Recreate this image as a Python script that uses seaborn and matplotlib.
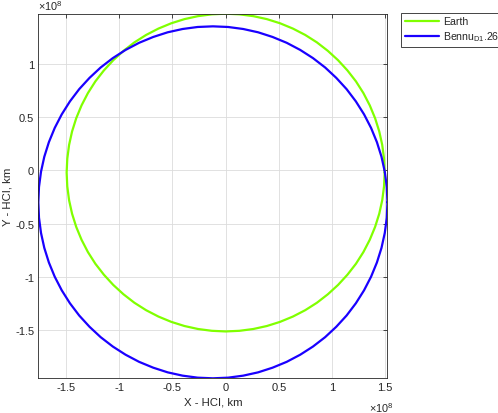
import numpy as np
import pandas as pd
import matplotlib
matplotlib.use("Agg")
import matplotlib.pyplot as plt
import seaborn as sns
from matplotlib.ticker import FuncFormatter

# orbit points, units of 1e8 km
earth_x = [1.495, 1.489, 1.472, 1.444, 1.405, 1.355, 1.295, 1.225, 1.145, 1.057, 0.961, 0.858,
           0.748, 0.632, 0.511, 0.387, 0.260, 0.130, 0.0, -0.130, -0.260, -0.387, -0.511, -0.632,
           -0.748, -0.858, -0.961, -1.057, -1.145, -1.225, -1.295, -1.355, -1.405, -1.444, -1.472, -1.489,
           -1.495, -1.489, -1.472, -1.444, -1.405, -1.355, -1.295, -1.225, -1.145, -1.057, -0.961, -0.858,
           -0.748, -0.632, -0.511, -0.387, -0.260, -0.130, 0.0, 0.130, 0.260, 0.387, 0.511, 0.632,
           0.748, 0.858, 0.961, 1.057, 1.145, 1.225, 1.295, 1.355, 1.405, 1.444, 1.472, 1.489, 1.495]
earth_y = [-0.020, 0.110, 0.240, 0.367, 0.491, 0.612, 0.728, 0.838, 0.941, 1.037, 1.125, 1.205,
           1.275, 1.335, 1.385, 1.424, 1.452, 1.469, 1.475, 1.469, 1.452, 1.424, 1.385, 1.335,
           1.275, 1.205, 1.125, 1.037, 0.941, 0.838, 0.728, 0.612, 0.491, 0.367, 0.240, 0.110,
           -0.020, -0.150, -0.280, -0.407, -0.531, -0.652, -0.768, -0.878, -0.981, -1.077, -1.165, -1.245,
           -1.315, -1.375, -1.425, -1.464, -1.492, -1.509, -1.515, -1.509, -1.492, -1.464, -1.425, -1.375,
           -1.315, -1.245, -1.165, -1.077, -0.981, -0.878, -0.768, -0.652, -0.531, -0.407, -0.280, -0.150, -0.020]

bennu_x = [1.521, 1.515, 1.496, 1.465, 1.422, 1.367, 1.301, 1.224, 1.137, 1.040, 0.935, 0.821,
           0.701, 0.574, 0.441, 0.305, 0.165, 0.023, -0.120, -0.263, -0.405, -0.545, -0.681, -0.814,
           -0.941, -1.061, -1.175, -1.280, -1.377, -1.464, -1.541, -1.607, -1.662, -1.705, -1.736, -1.755,
           -1.761, -1.755, -1.736, -1.705, -1.662, -1.607, -1.541, -1.464, -1.377, -1.280, -1.175, -1.061,
           -0.941, -0.814, -0.681, -0.545, -0.405, -0.263, -0.120, 0.023, 0.165, 0.305, 0.441, 0.574,
           0.701, 0.821, 0.935, 1.040, 1.137, 1.224, 1.301, 1.367, 1.422, 1.465, 1.496, 1.515, 1.521]
bennu_y = [-0.300, -0.156, -0.012, 0.129, 0.266, 0.400, 0.528, 0.650, 0.765, 0.871, 0.969, 1.057,
           1.134, 1.201, 1.256, 1.300, 1.331, 1.350, 1.356, 1.350, 1.331, 1.300, 1.256, 1.201,
           1.134, 1.057, 0.969, 0.871, 0.765, 0.650, 0.528, 0.400, 0.266, 0.129, -0.012, -0.156,
           -0.300, -0.444, -0.588, -0.729, -0.866, -1.000, -1.128, -1.250, -1.365, -1.471, -1.569, -1.657,
           -1.734, -1.801, -1.856, -1.900, -1.931, -1.950, -1.956, -1.950, -1.931, -1.900, -1.856, -1.801,
           -1.734, -1.657, -1.569, -1.471, -1.365, -1.250, -1.128, -1.000, -0.866, -0.729, -0.588, -0.444, -0.300]

x_ticks = [-1.5, -1, -0.5, 0, 0.5, 1, 1.5]
y_ticks = [-1.5, -1, -0.5, 0, 0.5, 1]

names = ["Earth", "Bennu$_{D1}$.26"]
colors = ["#80ff00", "#1a00ff"]

df = pd.concat([
    pd.DataFrame({"x": np.array(earth_x) * 1e8, "y": np.array(earth_y) * 1e8, "body": names[0]}),
    pd.DataFrame({"x": np.array(bennu_x) * 1e8, "y": np.array(bennu_y) * 1e8, "body": names[1]}),
])

sns.set_style("white")
plt.rcParams["font.family"] = ["Liberation Sans", "DejaVu Sans"]
plt.rcParams["mathtext.fontset"] = "custom"
plt.rcParams["mathtext.rm"] = "Liberation Sans"
plt.rcParams["mathtext.it"] = "Liberation Sans"
plt.rcParams["axes.unicode_minus"] = False

fig = plt.figure(figsize=(4.98, 4.14), dpi=100)
ax = fig.add_axes([0.077, 0.0838, 0.701, 0.8807])

sns.lineplot(data=df, x="x", y="y", hue="body", palette=colors, sort=False,
             estimator=None, linewidth=1.6, ax=ax)

# axis tight
ax.set_xlim(df["x"].min(), df["x"].max())
ax.set_ylim(df["y"].min(), df["y"].max())

ax.set_xticks(np.array(x_ticks) * 1e8)
ax.set_yticks(np.array(y_ticks) * 1e8)
fmt = FuncFormatter(lambda v, p: f"{v / 1e8:g}")
ax.xaxis.set_major_formatter(fmt)
ax.yaxis.set_major_formatter(fmt)

tc = "#262626"
ax.text(0.0, 1.004, r"$\times10^{8}$", transform=ax.transAxes, ha="left", va="bottom",
        fontsize=7.8, color=tc)
ax.text(1.018, -0.08, r"$\times10^{8}$", transform=ax.transAxes, ha="right", va="center",
        fontsize=7.8, color=tc)

ax.grid(True, color="#dcdcdc", linewidth=0.6)
ax.tick_params(direction="in", length=3, width=0.6, top=True, right=True,
               labelsize=8, colors=tc, pad=3)
for s in ax.spines.values():
    s.set_color(tc)
    s.set_linewidth(0.6)

ax.set_xlabel("X - HCI, km", fontsize=8.2, color=tc, labelpad=3)
ax.set_ylabel("Y - HCI, km", fontsize=8.2, color=tc)
ax.yaxis.set_label_coords(-0.074, 0.5)

ax.legend(loc="upper left", bbox_to_anchor=(1.04, 1.003), fontsize=7.6, frameon=True,
          fancybox=False, edgecolor=tc, framealpha=1, borderpad=0.35,
          handlelength=3.2, handletextpad=0.4, labelspacing=0.3, borderaxespad=0)
ax.get_legend().get_frame().set_linewidth(0.6)

fig.savefig("out.png", dpi=100)
